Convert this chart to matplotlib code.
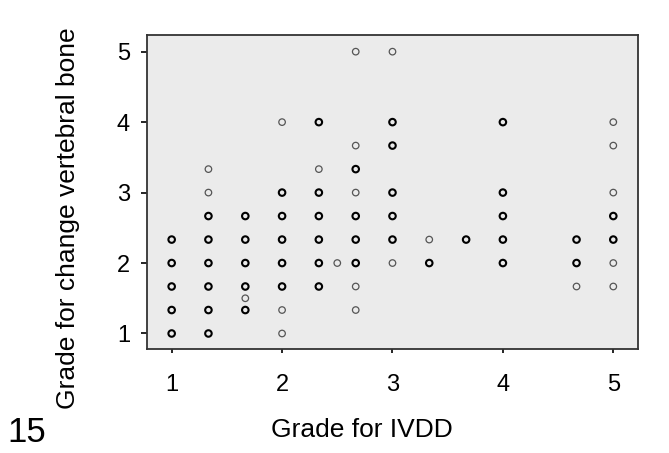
import matplotlib.pyplot as plt

plt.rcParams['font.family'] = ['Liberation Sans', 'DejaVu Sans']

# grade for IVDD (x), grade for change vertebral bone (y),
# dark = several cases on the same spot
ivdd = [1, 1, 1, 1, 1,
        1.333, 1.333, 1.333, 1.333, 1.333, 1.333, 1.333, 1.333,
        1.667, 1.667, 1.667, 1.667, 1.667, 1.667,
        2, 2, 2, 2, 2, 2, 2, 2,
        2.333, 2.333, 2.333, 2.333, 2.333, 2.333, 2.333,
        2.5,
        2.667, 2.667, 2.667, 2.667, 2.667, 2.667, 2.667, 2.667, 2.667,
        3, 3, 3, 3, 3, 3, 3,
        3.333, 3.333,
        3.667,
        4, 4, 4, 4, 4,
        4.667, 4.667, 4.667,
        5, 5, 5, 5, 5, 5, 5]
vert = [2.333, 2, 1.667, 1.333, 1,
        3.333, 3, 2.667, 2.333, 2, 1.667, 1.333, 1,
        2.667, 2.333, 2, 1.667, 1.5, 1.333,
        4, 3, 2.667, 2.333, 2, 1.667, 1.333, 1,
        4, 3.333, 3, 2.667, 2.333, 2, 1.667,
        2,
        5, 3.667, 3.333, 3, 2.667, 2.333, 2, 1.667, 1.333,
        5, 4, 3.667, 3, 2.667, 2.333, 2,
        2.333, 2,
        2.333,
        4, 3, 2.667, 2.333, 2,
        2.333, 2, 1.667,
        4, 3.667, 3, 2.667, 2.333, 2, 1.667]
dark = [1, 1, 1, 1, 1,
        0, 0, 1, 1, 1, 1, 1, 1,
        1, 1, 1, 1, 0, 1,
        0, 1, 1, 1, 1, 1, 0, 0,
        1, 0, 1, 1, 1, 1, 1,
        0,
        0, 0, 1, 0, 1, 1, 1, 0, 0,
        0, 1, 1, 1, 1, 1, 0,
        0, 1,
        1,
        1, 1, 1, 1, 1,
        1, 1, 0,
        0, 0, 0, 1, 1, 0, 0]

fig = plt.figure(figsize=(6.69, 4.53), dpi=100)
ax = fig.add_axes([0.2193, 0.2296, 0.7344, 0.6932])
ax.set_facecolor('#ebebeb')

x_light = [x for x, d in zip(ivdd, dark) if not d]
y_light = [y for y, d in zip(vert, dark) if not d]
x_dark = [x for x, d in zip(ivdd, dark) if d]
y_dark = [y for y, d in zip(vert, dark) if d]

ax.scatter(x_light, y_light, s=22, facecolors='none', edgecolors='#555555', linewidths=0.9)
ax.scatter(x_dark, y_dark, s=22, facecolors='none', edgecolors='black', linewidths=1.5)

ax.set_xlim(0.774, 5.224)
ax.set_ylim(0.78, 5.237)
ax.set_xticks([1, 2, 3, 4, 5])
ax.set_yticks([1, 2, 3, 4, 5])
ax.tick_params(axis='x', length=3, width=1.2, pad=15, labelsize=17)
ax.tick_params(axis='y', length=4, width=1.2, pad=8, labelsize=17)
for s in ax.spines.values():
    s.set_color('#333333')
    s.set_linewidth(1.3)

fig.text(362 / 669, 1 - 430 / 453, 'Grade for IVDD', fontsize=19, ha='center', va='center')
fig.text(68 / 669, 1 - 218 / 453, 'Grade for change vertebral bone', fontsize=19,
         rotation=90, ha='center', va='center')
fig.text(27 / 669, 1 - 432 / 453, '15', fontsize=25, ha='center', va='center')

fig.savefig('out.png', dpi=100, facecolor='white')
